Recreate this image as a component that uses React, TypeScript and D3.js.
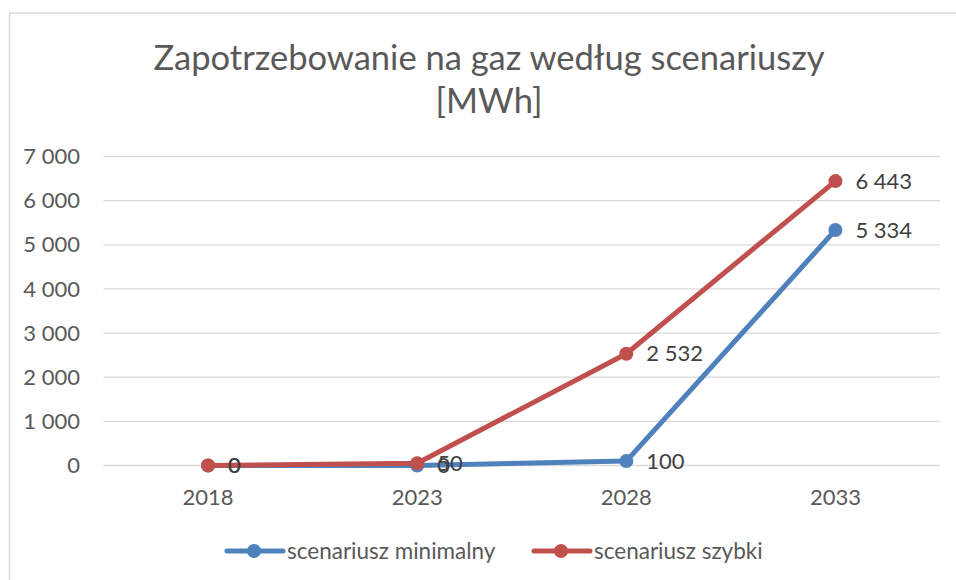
import React from "react";
import * as d3 from "d3";

const categories = ["2018", "2023", "2028", "2033"];
const seriesNames = ["scenariusz minimalny", "scenariusz szybki"];
const minimalny = [0, 0, 100, 5334];
const szybki = [0, 50, 2532, 6443];
const yTicks = [0, 1000, 2000, 3000, 4000, 5000, 6000, 7000];
const colors = ["#4F81BD", "#C0504D"];

const W = 956;
const H = 580;
const FONT = "Lato, 'Open Sans', sans-serif";

const fmt = (v: number) => d3.format(",")(v).replace(/,/g, " ");

export default function App() {
  const x = d3.scaleBand<string>().domain(categories).range([103.5, 940]);
  const y = d3.scaleLinear().domain([0, 7000]).range([465.5, 156.5]);
  const cx = (c: string) => (x(c) as number) + x.bandwidth() / 2;
  const line = d3
    .line<number>()
    .x((_, i) => cx(categories[i]))
    .y((d) => y(d));
  const series = [minimalny, szybki];
  const legendX = [227, 534];

  return (
    <svg
      width={W}
      height={H}
      style={{ position: "absolute", left: 0, top: 0, background: "#fff" }}
      fontFamily={FONT}
    >
      <rect x={9.5} y={13} width={W + 20} height={H + 20} fill="#fff" stroke="#d9d9d9" strokeWidth={1.5} />
      <text x={489} y={70} textAnchor="middle" fontSize={34.5} fill="#595959">
        Zapotrzebowanie na gaz według scenariuszy
      </text>
      <text x={489} y={113} textAnchor="middle" fontSize={34.5} fill="#595959">
        [MWh]
      </text>
      {yTicks.map((t) => (
        <g key={t}>
          <line x1={103.5} x2={940} y1={y(t)} y2={y(t)} stroke="#d9d9d9" strokeWidth={1.3} />
          <text x={80} y={y(t)} dy="0.35em" textAnchor="end" fontSize={22} fill="#595959">
            {fmt(t)}
          </text>
        </g>
      ))}
      {categories.map((c) => (
        <text key={c} x={cx(c)} y={505} textAnchor="middle" fontSize={22} fill="#595959">
          {c}
        </text>
      ))}
      {series.map((s, si) => (
        <g key={si}>
          <path d={line(s) || ""} fill="none" stroke={colors[si]} strokeWidth={5} strokeLinecap="round" strokeLinejoin="round" />
          {s.map((v, i) => (
            <circle key={i} cx={cx(categories[i])} cy={y(v)} r={7} fill={colors[si]} />
          ))}
        </g>
      ))}
      {series.map((s, si) =>
        s.map((v, i) => (
          <text
            key={si + "-" + i}
            x={cx(categories[i]) + 20}
            y={y(v)}
            dy="0.35em"
            fontSize={22}
            fill="#404040"
          >
            {fmt(v)}
          </text>
        ))
      )}
      {seriesNames.map((n, i) => {
        const lx = legendX[i];
        return (
          <g key={n}>
            <line x1={lx} x2={lx + 56} y1={551} y2={551} stroke={colors[i]} strokeWidth={5} strokeLinecap="round" />
            <circle cx={lx + 27} cy={551} r={7} fill={colors[i]} />
            <text x={lx + 60} y={551} dy="0.35em" fontSize={22.5} fill="#595959">
              {n}
            </text>
          </g>
        );
      })}
    </svg>
  );
}
